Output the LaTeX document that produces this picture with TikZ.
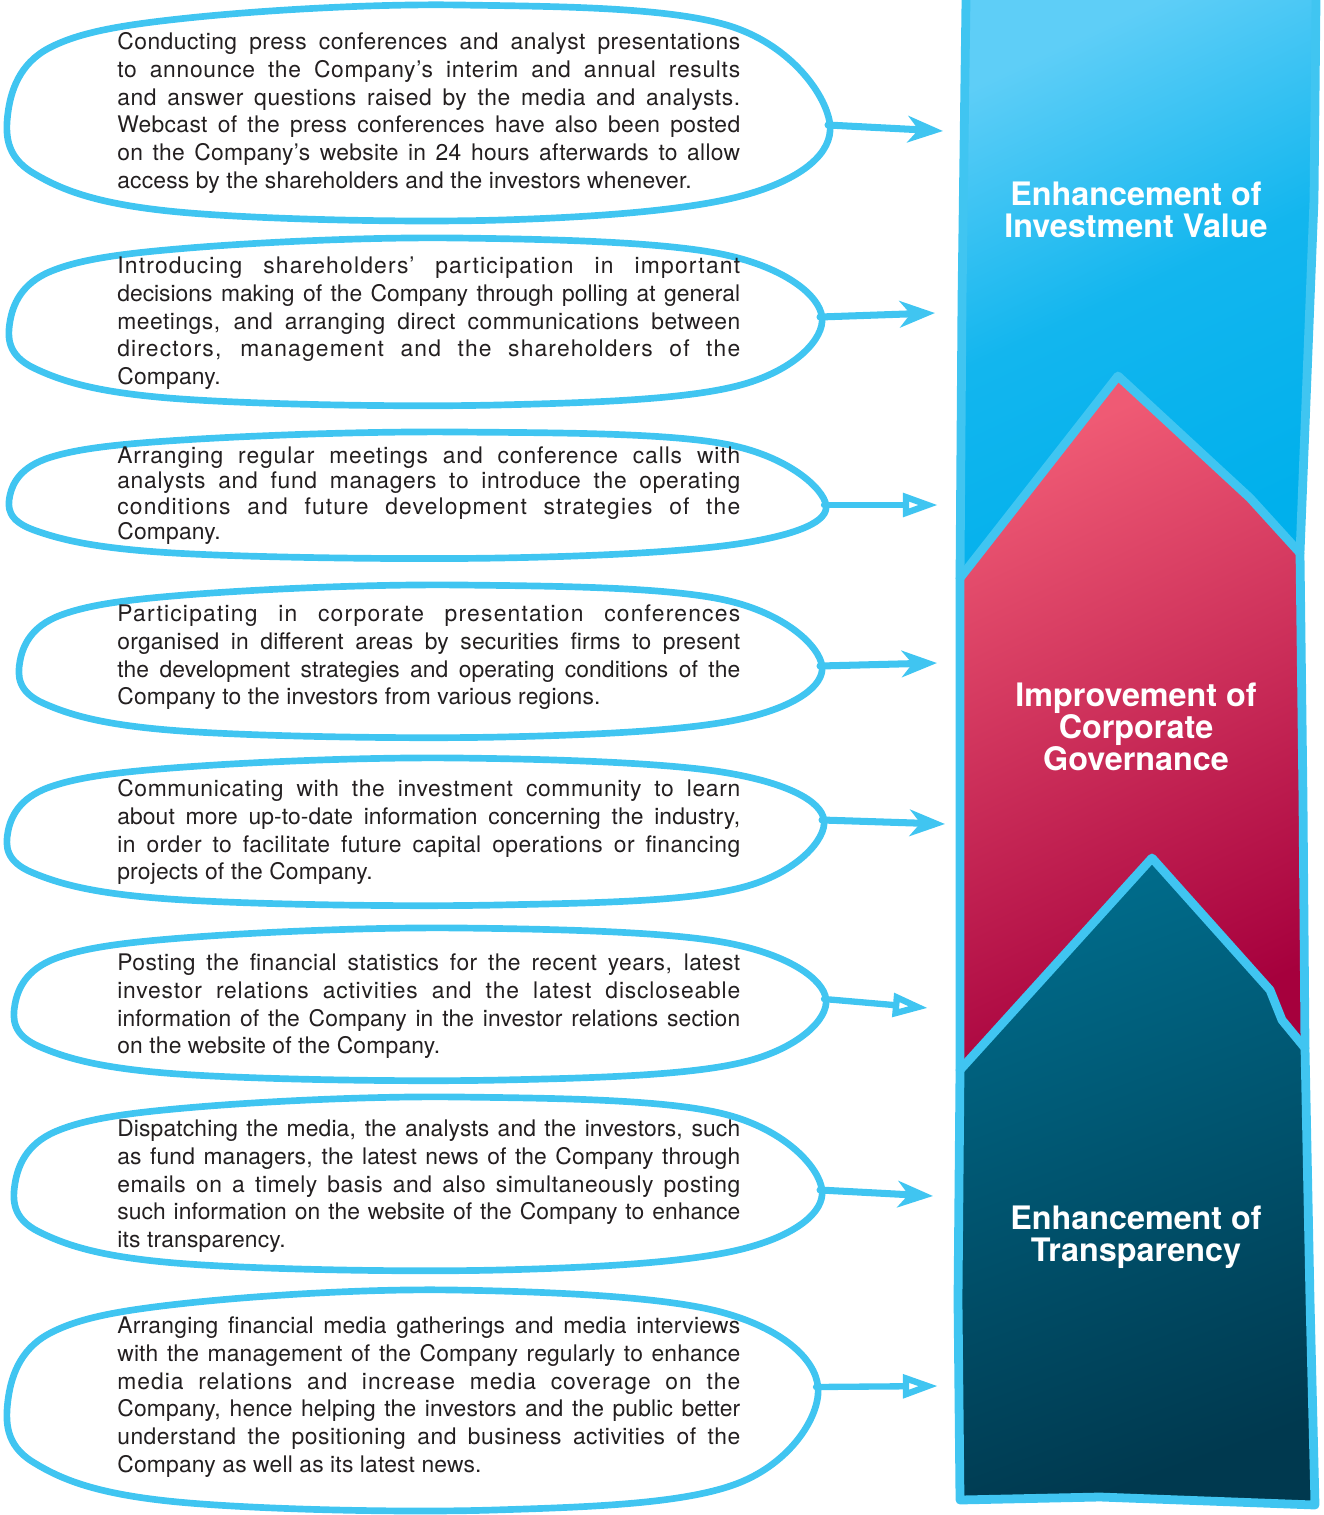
\documentclass[tikz,border=0pt]{standalone}
\usepackage{fontspec}
\setmainfont{TeX Gyre Heros}
\usetikzlibrary{arrows.meta}
\definecolor{skyline}{HTML}{40C5F1}
\definecolor{ink}{HTML}{231F20}
\definecolor{bluetop}{HTML}{5ECEF7}
\definecolor{bluebot}{HTML}{00B0EC}
\definecolor{pinktop}{HTML}{EF5A74}
\definecolor{pinkbot}{HTML}{A6003D}
\definecolor{tealtop}{HTML}{006B8A}
\definecolor{tealbot}{HTML}{00394F}
\newlength\boxw
\setlength\boxw{12.46cm}
\newcommand\jline[2][0]{\par\noindent\hbox to\boxw{\addfontfeature{LetterSpace=#1}\spaceskip=0pt\xspaceskip=0pt #2}\par}
\newcommand\lastline[2][0.8]{\par\noindent\hbox{\addfontfeature{LetterSpace=#1}\spaceskip=0pt\xspaceskip=0pt #2}\par}
\newcommand\handloop[6]{%
\pgfmathsetmacro\hw{#4-#2}%
\pgfmathsetmacro\hh{#5-#3}%
\draw[loopline] plot[smooth cycle, tension=0.6] coordinates {
 (#2,{#3+0.5*\hh})
 ({#2+0.05*\hw},{#3+0.2*\hh})
 ({#2+0.22*\hw},{#3+0.06*\hh})
 ({#2+0.55*\hw},{#3})
 ({#2+0.88*\hw},{#3+0.1*\hh})
 (#4,#6)
 ({#2+0.9*\hw},{#5-0.12*\hh})
 ({#2+0.6*\hw},{#5})
 ({#2+0.2*\hw},{#5-0.04*\hh})
 ({#2+0.03*\hw},{#5-0.22*\hh})
};
\draw[loopline, line width=2.6pt] plot[smooth, tension=0.6] coordinates {
 ({#2+0.3*\hw},{#3+0.03*\hh})
 ({#2+0.42*\hw},{#3+0.008*\hh})
 ({#2+0.52*\hw},{#3+0.0*\hh})
};
\coordinate (#1) at ({#4-2},#6);
}
\begin{document}
\begin{tikzpicture}[x=0.02cm,y=-0.02cm,
  loopline/.style={draw=skyline, line width=3.8pt, line cap=round, line join=round},
  arrowfilled/.style={draw=skyline, line width=4pt, line cap=round,
     -{Stealth[length=20pt,width=15pt,inset=6pt]}},
  arrowopen/.style={draw=skyline, line width=3.6pt, line cap=round,
     -{Triangle[open,length=20pt,width=13pt]}},
  bodytext/.style={anchor=north west, inner sep=0pt, text width=12.46cm,
     font=\fontsize{13}{15.87}\selectfont, text=ink, align=left},
  title/.style={text=white, font=\fontsize{18.4}{18.1}\selectfont\bfseries,
     align=center, inner sep=0pt},
  colline/.style={draw=skyline, line width=5pt, line cap=round, line join=round}]
\useasboundingbox (0,0) rectangle (1324,1515);

% ---------- right column ----------
\shade[top color=bluetop, bottom color=bluebot, middle color=bluebot!80!bluetop, shading angle=25]
  (966,0) -- (1316,0) -- (1314,200) -- (1300,553) -- (1250,498) -- (1118,376)
  -- (960,578) -- (962,300) -- cycle;
\shade[top color=pinktop, bottom color=pinkbot, shading angle=25]
  (960,578) -- (1118,376) -- (1250,498) -- (1300,553) -- (1303,800) -- (1305,1048)
  -- (1282,1020) -- (1270,990) -- (1152,858) -- (960,1070) -- cycle;
\shade[top color=tealtop, bottom color=tealbot, shading angle=20]
  (960,1070) -- (1152,858) -- (1270,990) -- (1282,1020) -- (1305,1048)
  -- (1310,1300) -- (1315,1505) -- (1100,1497) -- (960,1500) -- (958,1300) -- cycle;
\draw[colline] (966,0) -- (962,300) -- (960,578) -- (960,1070) -- (958,1300)
  -- (960,1500) -- (1100,1497) -- (1315,1505) -- (1310,1300) -- (1305,1048)
  -- (1303,800) -- (1300,553) -- (1314,200) -- (1316,0);
\draw[colline] (960,578) -- (1118,376) -- (1250,498) -- (1300,553);
\draw[colline] (960,1070) -- (1152,858) -- (1270,990) -- (1282,1020) -- (1305,1048);

\node[title] (v1) at (1136,210) {Enhancement of\\Investment Value};
\node[title] (v2) at (1136,727) {Improvement of\\Corporate\\Governance};
\node[title] (v3) at (1136,1237) {Enhancement of\\Transparency};

\coordinate (e1) at (943,131);
\coordinate (e2) at (935,313);
\coordinate (e3) at (938,505);
\coordinate (e4) at (937,663);
\coordinate (e5) at (945,824);
\coordinate (e6) at (928,1008);
\coordinate (e7) at (933,1196);
\coordinate (e8) at (938,1386);

% ---------- loops ----------
\handloop{s1}{8}{5}{830}{220}{125}
\handloop{s2}{10}{238}{822}{405}{317}
\handloop{s3}{10}{432}{826}{558}{505}
\handloop{s4}{20}{585}{822}{737}{666}
\handloop{s5}{8}{758}{824}{905}{820}
\handloop{s6}{15}{928}{826}{1080}{999}
\handloop{s7}{15}{1097}{822}{1270}{1190}
\handloop{s8}{8}{1290}{818}{1510}{1387}

\draw[arrowfilled] (s1) -- (e1);
\draw[arrowfilled] (s2) -- (e2);
\draw[arrowopen] (s3) -- (e3);
\draw[arrowfilled] (s4) -- (e4);
\draw[arrowfilled] (s5) -- (e5);
\draw[arrowopen] (s6) -- (e6);
\draw[arrowfilled] (s7) -- (e7);
\draw[arrowopen] (s8) -- (e8);

% ---------- texts ----------
\node[bodytext] (t1) at (117,21) {%
\jline[2.1]{Conducting press conferences and analyst presentations}%
\jline[3.1]{to announce the Company’s interim and annual results}%
\jline[2.4]{and answer questions raised by the media and analysts.}%
\jline[1.6]{Webcast of the press conferences have also been posted}%
\jline[1.3]{on the Company’s website in 24 hours afterwards to allow}%
\lastline{access by the shareholders and the investors whenever.}};

\node[bodytext] (t2) at (117,245) {%
\jline[5.3]{Introducing shareholders’ participation in important}%
\jline[0]{decisions making of the Company through polling at general}%
\jline[2.2]{meetings, and arranging direct communications between}%
\jline[5.1]{directors, management and the shareholders of the}%
\lastline{Company.}};

\node[bodytext, font=\fontsize{13}{14.6}\selectfont] (t3) at (117,437) {%
\jline[3.9]{Arranging regular meetings and conference calls with}%
\jline[3.1]{analysts and fund managers to introduce the operating}%
\jline[5.1]{conditions and future development strategies of the}%
\lastline{Company.}};

\node[bodytext] (t4) at (117,593) {%
\jline[5.3]{Participating in corporate presentation conferences}%
\jline[1]{organised in different areas by securities firms to present}%
\jline[0.3]{the development strategies and operating conditions of the}%
\lastline{Company to the investors from various regions.}};

\node[bodytext] (t5) at (117,768) {%
\jline[2.8]{Communicating with the investment community to learn}%
\jline[0.4]{about more up-to-date information concerning the industry,}%
\jline[2]{in order to facilitate future capital operations or financing}%
\lastline{projects of the Company.}};

\node[bodytext] (t6) at (117,942) {%
\jline[2]{Posting the financial statistics for the recent years, latest}%
\jline[3.6]{investor relations activities and the latest discloseable}%
\jline[0.5]{information of the Company in the investor relations section}%
\lastline{on the website of the Company.}};

\node[bodytext] (t7) at (117,1108) {%
\jline[0.6]{Dispatching the media, the analysts and the investors, such}%
\jline[0.6]{as fund managers, the latest news of the Company through}%
\jline[2.2]{emails on a timely basis and also simultaneously posting}%
\jline[0.2]{such information on the website of the Company to enhance}%
\lastline{its transparency.}};

\node[bodytext] (t8) at (117,1305) {%
\jline[1.1]{Arranging financial media gatherings and media interviews}%
\jline[0.7]{with the management of the Company regularly to enhance}%
\jline[4.4]{media relations and increase media coverage on the}%
\jline[0.7]{Company, hence helping the investors and the public better}%
\jline[2.2]{understand the positioning and business activities of the}%
\lastline{Company as well as its latest news.}};
\end{tikzpicture}
\end{document}
